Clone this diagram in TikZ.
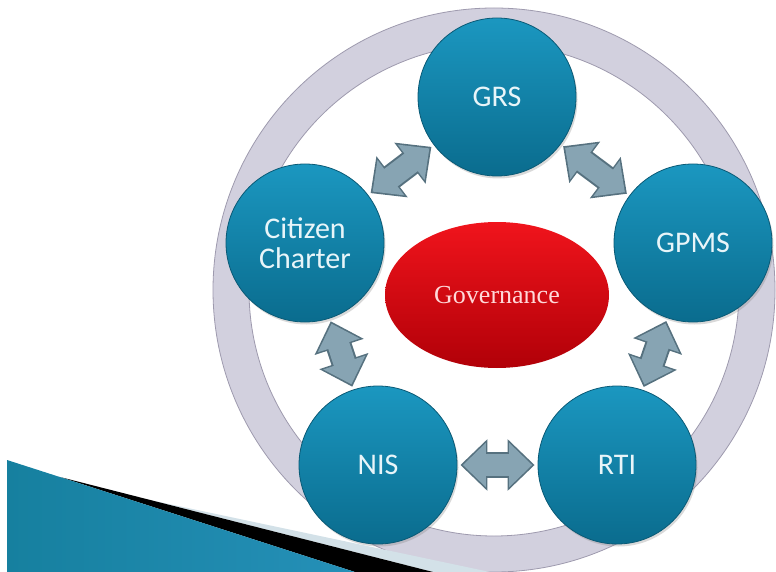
\documentclass[tikz,border=0pt]{standalone}
\usepackage{fontspec}
\usetikzlibrary{arrows.meta,shapes.geometric,shadows}
\newfontfamily\calibfont{Carlito}
\newfontfamily\govfont{Liberation Serif}
\definecolor{blueTop}{HTML}{1B97C0}
\definecolor{blueBot}{HTML}{0A6C8E}
\definecolor{blueEdge}{HTML}{0A5A76}
\definecolor{redTop}{HTML}{F0141C}
\definecolor{redBot}{HTML}{B10008}
\definecolor{ringFill}{HTML}{D2D0DE}
\definecolor{ringEdge}{HTML}{9E9AAE}
\definecolor{arrDark}{HTML}{56717F}
\definecolor{arrLight}{HTML}{87A4B3}
\definecolor{wedgeL}{HTML}{16809F}
\definecolor{wedgeM}{HTML}{3AA8CE}
\definecolor{wedgeR}{HTML}{2590B8}
\definecolor{wedgeGlow}{HTML}{D3E1E8}
\begin{document}
\begin{tikzpicture}[x=1pt,y=-1pt,
  part/.style={circle, draw=blueEdge, line width=0.8pt, top color=blueTop, bottom color=blueBot,
    minimum size=158pt, inner sep=0pt, align=center, text=white!90!blueTop,
    font=\calibfont\fontsize{30}{34}\selectfont,
    drop shadow={opacity=0.3,shadow xshift=1.5pt,shadow yshift=-2.5pt}},
  core/.style={ellipse, top color=redTop, bottom color=redBot, minimum width=224pt,
    minimum height=146pt, inner sep=0pt, text=red!15!white,
    font=\govfont\fontsize{26}{30}\selectfont},
  linkout/.style={arrDark, line width=26pt, shorten <=3pt, shorten >=3pt,
    {Triangle[length=27pt,width=50pt]}-{Triangle[length=27pt,width=50pt]}},
  linkin/.style={arrLight, line width=22pt, shorten <=5.5pt, shorten >=5.5pt,
    {Triangle[length=23pt,width=43pt]}-{Triangle[length=23pt,width=43pt]}}]
  \useasboundingbox (0,0) rectangle (776,572);
  \clip (0,0) rectangle (776,572);

  \fill[ringFill, even odd rule] (494,290) ellipse [x radius=281, y radius=282]
    (494,290) ellipse [x radius=245, y radius=246];
  \draw[ringEdge, line width=0.8pt] (494,290) ellipse [x radius=281, y radius=282];
  \draw[ringEdge, line width=0.8pt] (494,290) ellipse [x radius=245, y radius=246];

  \fill[wedgeGlow] (150,500) -- (490,572) -- (433,572) -- cycle;
  \fill[black] (60,477) -- (433,572) -- (355,572) -- cycle;
  \shade[left color=wedgeL, middle color=wedgeM, right color=wedgeR]
    (7,460) -- (355,572) -- (7,572) -- cycle;

  \node[core] (gov) at (497,295) {Governance};

  \node[part] (grs) at (497,97) {GRS};
  \node[part] (cc) at (305,243) {Citizen\\[-4pt]Charter};
  \node[part] (gpms) at (693,243) {GPMS};
  \node[part] (nis) at (378,465) {NIS};
  \node[part] (rti) at (617,465) {RTI};

  \foreach \a/\b in {grs/cc, grs/gpms, cc/nis, gpms/rti, nis/rti} {
    \draw[linkout] (\a) -- (\b);
    \draw[linkin] (\a) -- (\b);
  }
\end{tikzpicture}
\end{document}
